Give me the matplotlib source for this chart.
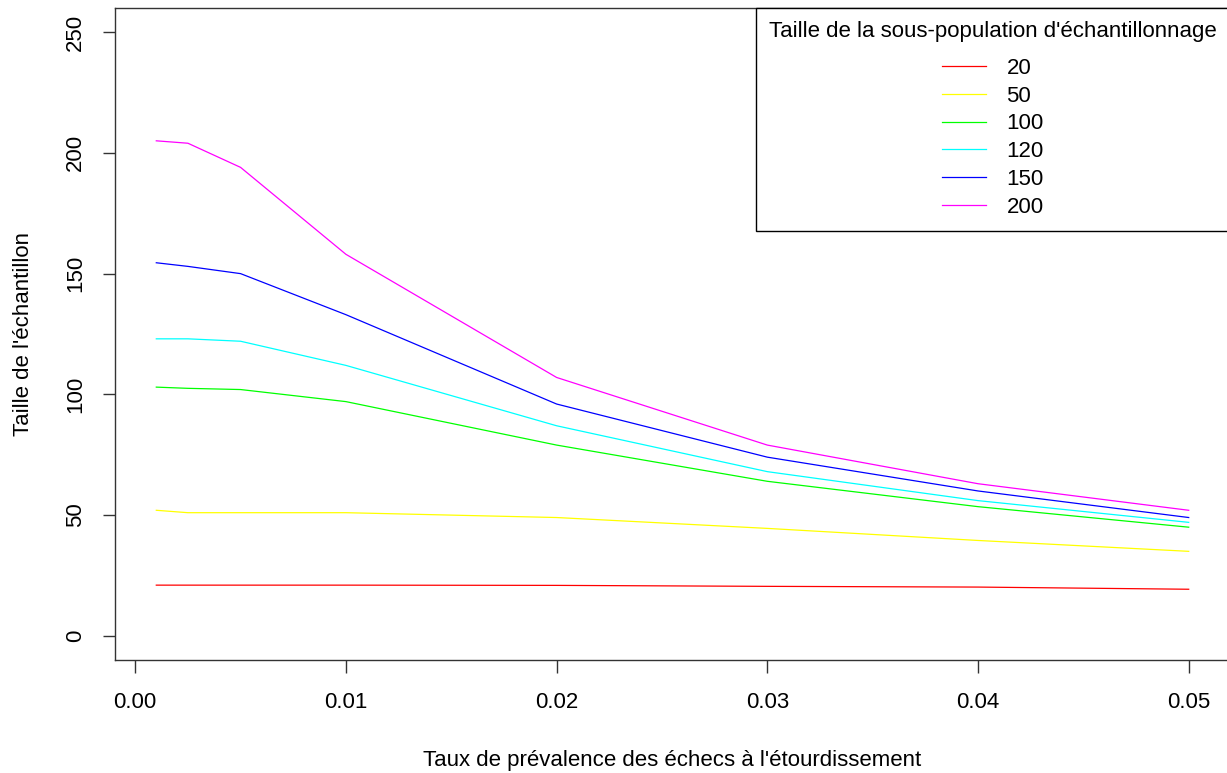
import numpy as np
import matplotlib
matplotlib.use('Agg')
import matplotlib.pyplot as plt

plt.rcParams['font.family'] = ['Liberation Sans', 'DejaVu Sans']

# Taux de prévalence (axe x)
taux = [0.001, 0.0025, 0.005, 0.01, 0.02, 0.03, 0.04, 0.05]

# Taille de l'échantillon pour chaque sous-population
n20 = [21, 21, 21, 21, 20.9, 20.5, 20.2, 19.3]
n50 = [52, 51, 51, 51, 49, 44.5, 39.5, 35]
n100 = [103, 102.5, 102, 97, 79, 64, 53.5, 45]
n120 = [123, 123, 122, 112, 87, 68, 56, 47]
n150 = [154.5, 153, 150, 133, 96, 74, 60, 49]
n200 = [205, 204, 194, 158, 107, 79, 63, 52]

series = [n20, n50, n100, n120, n150, n200]
labels = ['20', '50', '100', '120', '150', '200']
colors = ['red', 'yellow', '#00ff00', 'cyan', 'blue', 'magenta']

fs = 16

fig = plt.figure(figsize=(12.27, 7.73), dpi=100)
ax = fig.add_axes([115/1227, 113/773, 1115/1227, 652/773])

for vals, lab, col in zip(series, labels, colors):
    ax.plot(taux, vals, color=col, lw=0.9, label=lab)

ax.set_xlim(-0.00096, 0.05196)
ax.set_ylim(-10, 260)
ax.set_xticks(np.arange(0, 0.051, 0.01))
ax.set_xticklabels(['%.2f' % v for v in np.arange(0, 0.051, 0.01)])
ax.set_yticks(np.arange(0, 251, 50))
ax.set_yticklabels([str(v) for v in range(0, 251, 50)], rotation=90, va='center')
ax.tick_params(axis='both', labelsize=fs, length=9, width=1, color='#333333')
ax.tick_params(axis='x', pad=14)
ax.tick_params(axis='y', pad=12)
for sp in ax.spines.values():
    sp.set_color('#333333')
    sp.set_linewidth(1)

ax.set_xlabel("Taux de prévalence des échecs à l'étourdissement", fontsize=fs, labelpad=27)
ax.set_ylabel("Taille de l'échantillon", fontsize=fs, labelpad=22)

leg = ax.legend(title="Taille de la sous-population d'échantillonnage",
                loc='upper right', bbox_to_anchor=(1, 1), borderaxespad=0,
                fontsize=fs, title_fontsize=fs, alignment='center',
                fancybox=False, edgecolor='black', framealpha=1,
                handlelength=2.0, handletextpad=0.9, labelspacing=0.31,
                borderpad=0.6)
leg.get_frame().set_linewidth(1)
# extra room between the legend title and the entries
leg._legend_box.sep = 11

fig.savefig('out.png', dpi=100)
